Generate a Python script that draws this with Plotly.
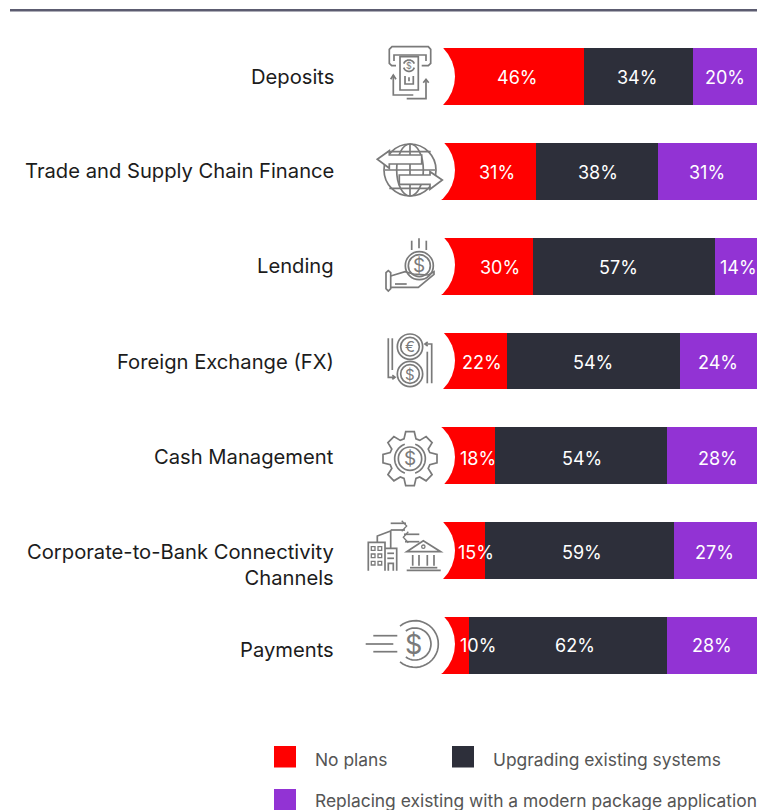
import math
import plotly.graph_objects as go

# ---------- data ----------
categories = ["Deposits", "Trade and Supply Chain Finance", "Lending", "Foreign Exchange (FX)",
              "Cash Management", "Corporate-to-Bank Connectivity Channels", "Payments"]
category_text = ["Deposits", "Trade and Supply Chain Finance", "Lending", "Foreign Exchange (FX)",
                 "Cash Management", "Corporate-to-Bank Connectivity<br>Channels", "Payments"]
no_plans = [46, 31, 30, 22, 18, 15, 10]
upgrading = [34, 38, 57, 54, 54, 59, 62]
replacing = [20, 31, 14, 24, 28, 27, 28]
series_names = ["No plans", "Upgrading existing systems", "Replacing existing with a modern package application"]

# ---------- style / layout ----------
RED, DARK, PURPLE = "#ff0000", "#2d2f3a", "#9233d4"
GRAY = "#7a7a7a"
FONT = "Inter"
W, H = 757, 810

# hand-placed label centres in the reference (page pixels)
label_px = [(517, 637, 725), (497, 598, 707), (500, 618, 738), (482, 593, 718),
            (478, 582, 718), (476, 582, 714), (478, 575, 712)]
label_py = [77, 172, 267, 362, 458, 552, 645]
cat_py = [76, 170, 265, 361, 456, 564, 649]
mask_cy = [76.5, 170, 265, 360.5, 457, 550.5, 644]

fig = go.Figure()
for name, vals, col in zip(series_names, [no_plans, upgrading, replacing], [RED, DARK, PURPLE]):
    fig.add_trace(go.Bar(y=categories, x=vals, name=name, orientation="h",
                         marker=dict(color=col, line=dict(width=0)), showlegend=False, hoverinfo="x+y"))
fig.add_trace(go.Scatter(x=[None], y=[None], xaxis="x2", yaxis="y2", showlegend=False, hoverinfo="skip"))

shapes, ann = [], []


def pt(x0, x1, y0, y1):
    return dict(xref="x2", yref="y2", x0=x0, x1=x1, y0=y0, y1=y1)


def txt(x, y, s, size, color, anchor="center"):
    ann.append(dict(xref="x2", yref="y2", x=x, y=y, text=s, showarrow=False, xanchor=anchor, yanchor="middle",
                    borderpad=0, font=dict(family=FONT, size=size, color=color),
                    align="right" if anchor == "right" else "center"))


# top rule
shapes.append(dict(type="rect", **pt(10, 757, 9, 11.6), fillcolor="#5c5c70", line_width=0))

# white bites out of the bar starts
for cy in mask_cy:
    shapes.append(dict(type="circle", **pt(375, 455, cy - 40, cy + 40), fillcolor="white", line_width=0))


class Icon:
    def __init__(self, ox, oy):
        self.ox, self.oy = ox, oy

    def X(self, x):
        return self.ox + x / 3

    def Y(self, y):
        return self.oy + y / 3

    def poly(self, pts, close=False, fill=None, w=1.7):
        d = "M" + " L".join(f"{self.X(x):.1f},{self.Y(y):.1f}" for x, y in pts) + (" Z" if close else "")
        s = dict(type="path", path=d, xref="x2", yref="y2", line=dict(color=GRAY, width=w))
        if fill:
            s["fillcolor"] = fill
        shapes.append(s)

    def circ(self, cx, cy, r, ry=None, w=1.7, fill=None):
        ry = r if ry is None else ry
        s = dict(type="circle", **pt(self.X(cx - r), self.X(cx + r), self.Y(cy - ry), self.Y(cy + ry)),
                 line=dict(color=GRAY, width=w))
        if fill:
            s["fillcolor"] = fill
        shapes.append(s)

    def arc(self, cx, cy, r, a0, a1, w=1.7):
        n = 30
        self.poly([(cx + r * math.cos(math.radians(a0 + (a1 - a0) * i / n)),
                    cy + r * math.sin(math.radians(a0 + (a1 - a0) * i / n))) for i in range(n + 1)], w=w)

    def sym(self, x, y, s, size):
        txt(self.X(x), self.Y(y), s, size, GRAY)


# Deposits icon
a = Icon(360, 0)
a.poly([(108, 197), (95, 197), (88, 190), (88, 148), (96, 140), (205, 140), (212, 148), (212, 190), (205, 197), (185, 197)])
a.poly([(102, 183), (102, 165), (198, 165), (198, 183)])
a.poly([(120, 170), (175, 170), (175, 270), (120, 270)], close=True)
a.arc(147, 197, 17, 200, 340)
a.arc(147, 197, 17, 20, 160)
a.sym(147, 197, "$", 9)
a.poly([(135, 228), (135, 252), (160, 252), (160, 228)])
a.poly([(147, 232), (147, 244)])
a.poly([(92, 238), (100, 225), (108, 238)])
a.poly([(100, 225), (100, 285), (160, 285)])
a.poly([(190, 248), (198, 238), (206, 248)])
a.poly([(198, 238), (198, 296), (140, 296)])

# Trade icon
a = Icon(360, 0)
a.circ(150, 510, 78)
a.circ(150, 510, 40, 78)
a.poly([(150, 432), (150, 588)])
a.poly([(88, 455), (212, 455)])
a.poly([(75, 510), (225, 510)])
a.poly([(88, 565), (212, 565)])
a.poly([(52, 478), (88, 452), (88, 465), (185, 465), (185, 492), (88, 492), (88, 505)], close=True, fill="white")
a.poly([(247, 540), (210, 515), (210, 525), (118, 525), (118, 553), (210, 553), (210, 568)], close=True, fill="white")

# Lending icon
a = Icon(360, 220)
a.circ(178, 137, 42)
a.circ(178, 137, 33)
a.sym(178, 137, "$", 19)
for x, y0, y1 in [(155, 62, 90), (177, 55, 85), (199, 62, 90)]:
    a.poly([(x, y0), (x, y1)])
a.poly([(78, 158), (85, 152), (92, 158), (92, 206), (85, 213), (78, 206)], close=True)
a.poly([(92, 168), (135, 155), (160, 162), (205, 165), (222, 155), (222, 163), (175, 202), (92, 202)])
a.poly([(105, 192), (140, 192)])

# FX icon
a = Icon(360, 220)
for cy, s in [(380, "€"), (462, "$")]:
    a.circ(150, cy, 38)
    a.circ(150, cy, 28)
    a.sym(150, cy, s, 15)
a.poly([(85, 355), (85, 472), (105, 472)])
a.poly([(97, 466), (105, 472), (97, 478)])
a.poly([(97, 355), (97, 450)])
a.poly([(215, 490), (215, 372), (195, 372)])
a.poly([(203, 366), (195, 372), (203, 378)])
a.poly([(202, 490), (202, 395)])

# Cash management icon
a = Icon(360, 220)
cx, cy = 150, 716
gear = []
for i in range(8):
    c = i * 45 - 90
    for r, d in [(62, -17), (82, -9), (82, 9), (62, 17)]:
        gear.append((cx + r * math.cos(math.radians(c + d)), cy + r * math.sin(math.radians(c + d))))
a.poly(gear, close=True)
a.circ(cx, cy, 35)
a.arc(cx, cy, 46, 110, 250)
a.arc(cx, cy, 46, -70, 70)
a.sym(cx, cy, "$", 19)

# Connectivity icon
a = Icon(350, 500)
a.poly([(55, 212), (55, 127), (105, 127), (105, 212)])
a.poly([(105, 145), (140, 145), (140, 212)])
a.poly([(82, 127), (82, 108), (122, 93), (122, 145)])
for yy in (140, 162, 184):
    for xx in (64, 84):
        a.poly([(xx, yy), (xx + 11, yy), (xx + 11, yy + 11), (xx, yy + 11)], close=True, w=1.3)
a.poly([(112, 160), (132, 160)])
a.poly([(112, 175), (132, 175)])
a.poly([(115, 212), (115, 190), (130, 190), (130, 212)])
a.poly([(170, 155), (220, 122), (272, 155)], close=True)
a.circ(220, 140, 5, w=1.3)
for xx in (188, 207, 232, 252):
    a.poly([(xx, 165), (xx, 197)])
a.poly([(180, 203), (262, 203)])
a.poly([(170, 211), (272, 211)])
a.poly([(122, 70), (168, 70)])
a.poly([(155, 62), (170, 78), (155, 94)], w=1.3)
a.poly([(122, 90), (165, 90)])
a.poly([(208, 103), (162, 103)])
a.poly([(175, 95), (160, 112), (175, 128)], w=1.3)
a.poly([(208, 125), (165, 125)])

# Payments icon
a = Icon(350, 500)
a.arc(195, 432, 70, -130, 130)
a.arc(195, 432, 48, -125, 125)
a.poly([(70, 407), (142, 407)])
a.poly([(47, 432), (130, 432)])
a.poly([(70, 455), (142, 455)])
a.sym(190, 432, "$", 27)

# text
for s, y in zip(category_text, cat_py):
    txt(335, y, s, 20.2, "#1c1c1c", "right")
for xs, y, vals in zip(label_px, label_py, zip(no_plans, upgrading, replacing)):
    for x, v in zip(xs, vals):
        txt(x, y, f"{v}%", 18, "white")

# legend
for (x, y, col, name) in [(274, 746, RED, series_names[0]), (452, 746, DARK, series_names[1]),
                          (274, 789, PURPLE, series_names[2])]:
    shapes.append(dict(type="rect", **pt(x, x + 22, y, y + 21.5), fillcolor=col, line_width=0))
    txt(x + 40, y + 13 if y < 780 else 800, name, 17.4, "#555555", "left")

fig.update_layout(
    width=W, height=H, autosize=False, barmode="stack", bargap=0.4,
    margin=dict(l=0, r=0, t=0, b=0), paper_bgcolor="white", plot_bgcolor="rgba(0,0,0,0)",
    showlegend=False, shapes=shapes, annotations=ann,
    xaxis=dict(domain=[437 / W, 1], range=[0, 100], visible=False, fixedrange=True),
    yaxis=dict(domain=[117 / H, 781 / H], categoryorder="array", categoryarray=categories,
               autorange="reversed", visible=False, fixedrange=True),
    xaxis2=dict(domain=[0, 1], range=[0, W], visible=False, fixedrange=True, anchor="y2"),
    yaxis2=dict(domain=[0, 1], range=[H, 0], visible=False, fixedrange=True, anchor="x2"),
)
fig.write_html("out.html", config=dict(displayModeBar=False),
               post_script="document.body.style.margin='0';document.body.style.overflow='hidden';")
